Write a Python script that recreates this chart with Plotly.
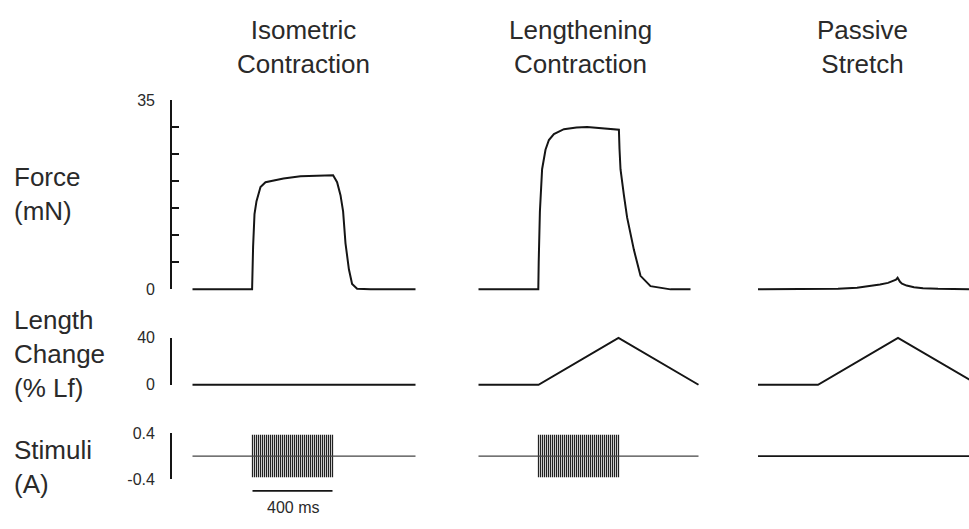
import plotly.graph_objects as go

# ---------------- data ----------------
conditions = ["Isometric<br>Contraction", "Lengthening<br>Contraction", "Passive<br>Stretch"]

# Force (mN) traces, time in ms
iso_force_t = [0, 298, 303, 310, 320, 340, 365, 455, 540, 703, 723, 740, 753, 765, 782, 798, 823, 890, 1115]
iso_force_v = [0, 0, 7.9, 13.9, 16.3, 18.9, 19.8, 20.5, 20.9, 21.1, 19.8, 17.4, 14.4, 8.5, 3.7, 1.0, 0.1, 0, 0]

len_force_t = [0, 299, 301, 307, 318, 335, 352, 377, 427, 490, 543, 627, 702, 705, 710, 727, 743, 777, 810, 860, 960, 1060]
len_force_v = [0, 0, 5.0, 14.4, 22.2, 25.8, 27.6, 28.7, 29.6, 29.9, 30.0, 29.8, 29.5, 26.0, 22.2, 17.4, 13.3, 7.3, 2.5, 0.6, 0, 0]

pas_force_t = [0, 300, 400, 495, 550, 610, 650, 675, 690, 698, 705, 710, 720, 743, 780, 825, 900, 1045, 1100]
pas_force_v = [0, 0, 0.1, 0.3, 0.55, 0.9, 1.2, 1.55, 1.8, 2.15, 1.6, 1.4, 1.05, 0.7, 0.4, 0.2, 0.1, 0, 0]

# Length change (% Lf)
iso_len_t = [0, 1115]
iso_len_v = [0, 0]
len_len_t = [0, 300, 700, 1100]
len_len_v = [0, 0, 40, 0]
pas_len_t = [0, 300, 700, 1100]
pas_len_v = [0, 0, 40, 0]

# Stimuli (A)
stim_base_end = [1115, 1100, 1100]
pulse_times = [300, 310, 320, 330, 340, 350, 360, 370, 380, 390,
               400, 410, 420, 430, 440, 450, 460, 470, 480, 490,
               500, 510, 520, 530, 540, 550, 560, 570, 580, 590,
               600, 610, 620, 630, 640, 650, 660, 670, 680, 690, 700]
pulse_amp = 0.37
stimulated = [True, True, False]

# axis labels / ticks
force_ticks = [0, 5, 10, 15, 20, 25, 30, 35]
force_ticktext = ["0", "", "", "", "", "", "", "35"]
len_ticks = [0, 40]
len_ticktext = ["0", "40"]
stim_ticks = [-0.4, 0.4]
stim_ticktext = ["-0.4", "0.4"]
scale_bar_ms = [300, 700]
scale_label = "400 ms"

# ---------------- layout helpers ----------------
W, H = 969, 529
def fx(p):
    return p / W
def fy(p):
    return 1 - p / H

FONT = "Liberation Sans, Arial, sans-serif"
TXT = "#2a2a2a"
LINE = "#151515"

col_dom = [(172.5, 416.5), (458.5, 702.5), (738, 969)]
col_rng = [[-100, 1120], [-100, 1120], [-100, 1055]]

# data rows: (top px, bottom px, range)
row_dom = [(95, 296.3), (337.1, 392.9), (436.3, 489.7)]
row_rng = [[-1, 35], [-3, 43], [-0.45, 0.45]]
# bracket axes (exact value span)
br_dom = [(95, 290.7), (340.7, 389.3), (439.3, 486.7)]
br_rng = [[0, 35], [0, 40], [-0.4, 0.4]]
br_ticks = [(force_ticks, force_ticktext), (len_ticks, len_ticktext), (stim_ticks, stim_ticktext)]

fig = go.Figure()
layout = dict(
    width=W, height=H, margin=dict(l=0, r=0, t=0, b=0),
    paper_bgcolor="white", plot_bgcolor="rgba(0,0,0,0)",
    showlegend=False, font=dict(family=FONT, color=TXT),
)

xnames = ["x", "x2", "x3"]
for c in range(3):
    key = "xaxis" if c == 0 else f"xaxis{c+1}"
    layout[key] = dict(domain=[fx(col_dom[c][0]), fx(col_dom[c][1])], range=col_rng[c],
                       visible=False, fixedrange=True, anchor="y7")
for r in range(3):
    for c in range(3):
        n = r * 3 + c + 1
        key = "yaxis" if n == 1 else f"yaxis{n}"
        layout[key] = dict(domain=[fy(row_dom[r][1]), fy(row_dom[r][0])], range=row_rng[r],
                           visible=False, fixedrange=True, anchor=xnames[c])

# bracket axes
layout["xaxis4"] = dict(domain=[fx(172), fx(180)], range=[0, 1], visible=False, fixedrange=True, anchor="y10")
for r in range(3):
    n = 10 + r
    layout[f"yaxis{n}"] = dict(
        domain=[fy(br_dom[r][1]), fy(br_dom[r][0])], range=br_rng[r], anchor="x4",
        showline=True, linecolor=LINE, linewidth=1.7, ticks="inside", ticklen=7,
        tickwidth=1.6, tickcolor=LINE, tickvals=br_ticks[r][0], ticktext=br_ticks[r][1],
        tickfont=dict(size=16, color=TXT, family=FONT), showgrid=False, zeroline=False,
        fixedrange=True, ticklabelstandoff=12,
    )
    fig.add_trace(go.Scatter(x=[None], y=[None], xaxis="x4", yaxis=f"y{n}",
                             mode="lines", hoverinfo="skip"))

def add(t, v, c, r, width=2.0, color=LINE):
    n = r * 3 + c + 1
    fig.add_trace(go.Scatter(x=t, y=v, xaxis=xnames[c], yaxis=f"y{n}", mode="lines",
                             line=dict(color=color, width=width), hoverinfo="skip"))

force_t = [iso_force_t, len_force_t, pas_force_t]
force_v = [iso_force_v, len_force_v, pas_force_v]
lc_t = [iso_len_t, len_len_t, pas_len_t]
lc_v = [iso_len_v, len_len_v, pas_len_v]

for c in range(3):
    add(force_t[c], force_v[c], c, 0)
    add(lc_t[c], lc_v[c], c, 1)
    if stimulated[c]:
        px, py = [], []
        for t in pulse_times:
            px += [t, t, None]
            py += [-pulse_amp, pulse_amp, None]
        add(px, py, c, 2, width=1.25, color="#222222")
        add([0, stim_base_end[c]], [0, 0], c, 2, width=1.3, color="#444444")
    else:
        add([0, stim_base_end[c]], [0, 0], c, 2, width=1.8)

annotations = []
# column titles
title_x = [303, 580, 862]
for c, name in enumerate(conditions):
    annotations.append(dict(text=name, xref="paper", yref="paper", x=fx(title_x[c]),
                            y=fy(40), xanchor="center", yanchor="middle",
                            showarrow=False, font=dict(size=26, color=TXT, family=FONT)))
# row labels
row_labels = [("Force<br>(mN)", 192),
              ("Length<br>Change<br>(% Lf)", 357),
              ("Stimuli<br>(A)", 474)]
for text, yy in row_labels:
    annotations.append(dict(text=text, xref="paper", yref="paper", x=fx(12), y=fy(yy),
                            xanchor="left", yanchor="middle", align="left", showarrow=False,
                            font=dict(size=26, color=TXT, family=FONT)))
# scale bar label
annotations.append(dict(text=scale_label, xref="x", yref="paper",
                        x=(scale_bar_ms[0] + scale_bar_ms[1]) / 2, y=fy(516),
                        xanchor="center", yanchor="middle", showarrow=False,
                        font=dict(size=16, color=TXT, family=FONT)))
layout["annotations"] = annotations
layout["shapes"] = [dict(type="line", xref="x", yref="paper", x0=scale_bar_ms[0], x1=scale_bar_ms[1],
                         y0=fy(499), y1=fy(499), line=dict(color=LINE, width=1.8))]

fig.update_layout(**layout)
fig.write_html("out.html")
